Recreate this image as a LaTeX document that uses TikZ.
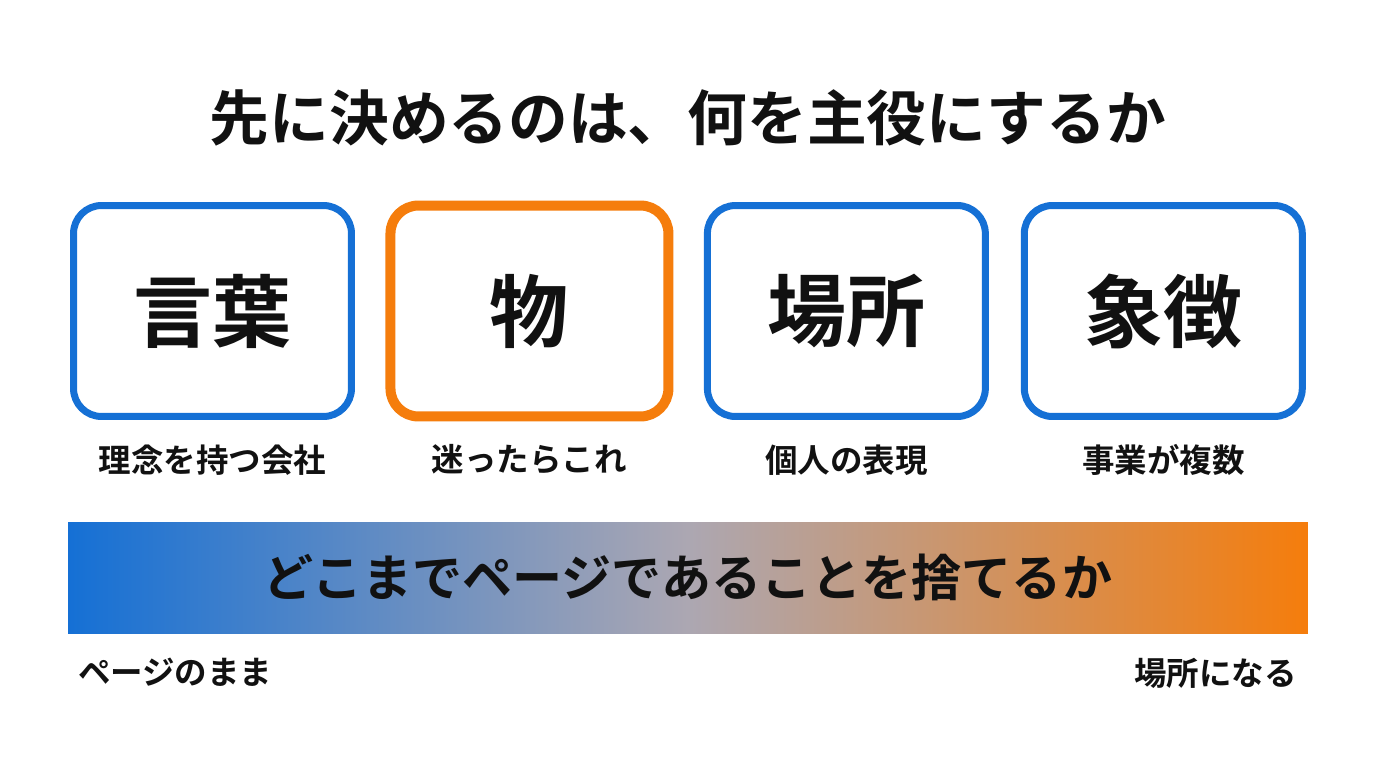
\documentclass[tikz,border=0pt]{standalone}
\usepackage{fontspec}
\setmainfont{Noto Sans CJK JP}[BoldFont={* Bold}]
\usetikzlibrary{positioning}
\definecolor{keyblue}{RGB}{21,112,213}
\definecolor{keyorange}{RGB}{245,125,12}
\definecolor{midgray}{RGB}{172,167,178}
\definecolor{ink}{RGB}{17,17,17}

\begin{document}
\begin{tikzpicture}[x=0.02cm, y=-0.02cm, outer sep=0pt, node distance=0.78cm,
    card/.style={draw=keyblue, line width=0.14cm, rounded corners=0.56cm, minimum width=5.56cm, minimum height=4.22cm, text=ink, font=\bfseries\fontsize{45}{50}\selectfont},
    pick/.style={card, draw=keyorange, line width=0.2cm},
    caption/.style={inner sep=0pt, text=ink, font=\bfseries\fontsize{18.5}{22}\selectfont}]
    \useasboundingbox (0,0) rectangle (1376,768);
    \node[text=ink, font=\bfseries\fontsize{34}{40}\selectfont] (title) at (688,118) {先に決めるのは、何を主役にするか};
    % the four choices
    \node[card] (words) at (212.5,311) {\raisebox{-0.12cm}{言葉}};
    \node[pick, right=of words] (thing) {\raisebox{-0.12cm}{物}};
    \node[card, right=of thing] (place) {\raisebox{-0.12cm}{場所}};
    \node[card, right=of place] (symbol) {\raisebox{-0.12cm}{象徴}};
    \node[caption, below=0.56cm of words] (wordscap) {理念を持つ会社};
    \node[caption, below=0.56cm of thing] (thingcap) {迷ったらこれ};
    \node[caption, below=0.56cm of place] (placecap) {個人の表現};
    \node[caption, below=0.56cm of symbol] (symbolcap) {事業が複数};
    % scale from page to place
    \node[minimum width=24.8cm, minimum height=2.22cm, left color=keyblue, right color=keyorange, middle color=midgray, text=ink, font=\bfseries\fontsize{28.5}{32}\selectfont] (bar) at (688,577.5) {どこまでページであることを捨てるか};
    \node[caption, anchor=north west] (pageend) at ([shift={(0.2cm,-0.5cm)}]bar.south west) {ページのまま};
    \node[caption, anchor=north east] (placeend) at ([shift={(-0.22cm,-0.5cm)}]bar.south east) {場所になる};
\end{tikzpicture}
\end{document}
